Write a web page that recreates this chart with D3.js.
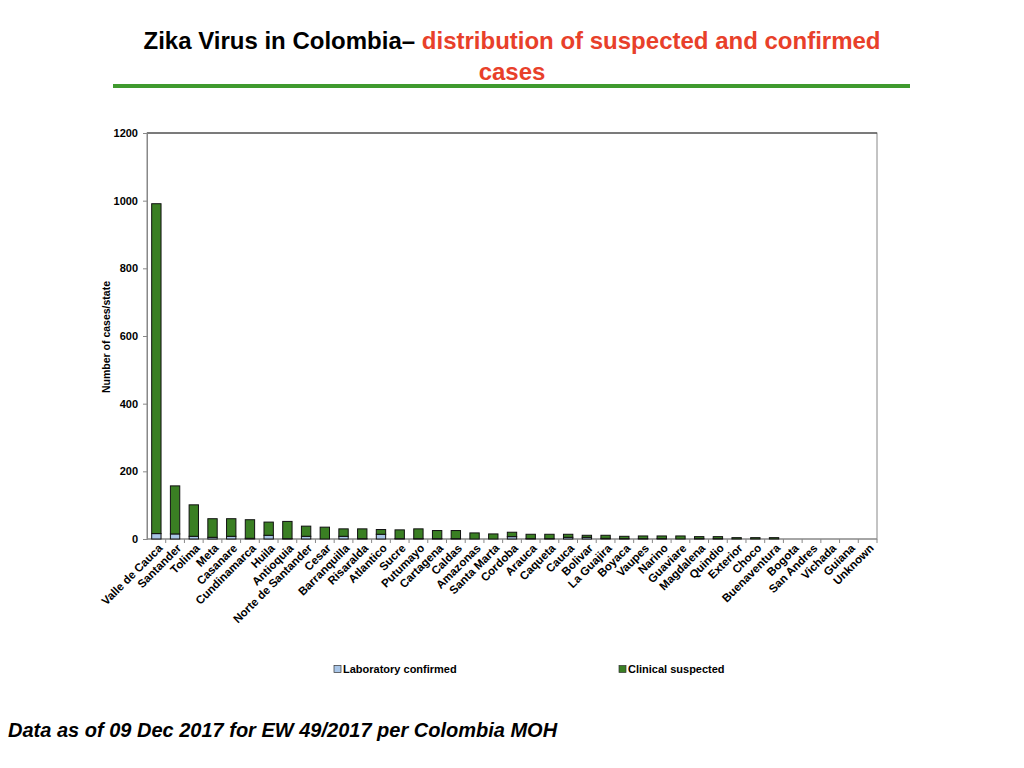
<!DOCTYPE html>
<html>
<head>
<meta charset="utf-8">
<script src="https://cdn.jsdelivr.net/npm/d3@7"></script>
<style>
  body { margin: 0; background: #fff; }
  svg { display: block; }
</style>
</head>
<body>
<svg width="1024" height="768"></svg>
<script>
const svg = d3.select("svg");

// data
const states = ["Valle de Cauca", "Santander", "Tolima", "Meta", "Casanare", "Cundinamarca",
  "Huila", "Antioquia", "Norte de Santander", "Cesar", "Barranquilla", "Risaralda", "Atlantico",
  "Sucre", "Putumayo", "Cartagena", "Caldas", "Amazonas", "Santa Marta", "Cordoba", "Arauca",
  "Caqueta", "Cauca", "Bolivar", "La Guajira", "Boyaca", "Vaupes", "Narino", "Guaviare",
  "Magdalena", "Quindio", "Exterior", "Choco", "Buenaventura", "Bogota", "San Andres",
  "Vichada", "Guiana", "Unknown"];
const labConfirmed = [16, 15, 8, 5, 8, 2, 11, 1, 8, 0, 8, 1, 14, 1, 1, 1, 1, 0, 0, 7, 1,
  1, 5, 5, 2, 1, 1, 1, 0, 1, 1, 0, 0, 0, 0, 0, 0, 0, 0];
const clinicalSuspected = [975, 142, 93, 55, 52, 55, 39, 51, 30, 35, 22, 29, 14, 26, 29, 24, 24, 18, 15, 13, 13,
  13, 9, 6, 9, 7, 8, 8, 9, 6, 6, 4, 4, 4, 0, 0, 0, 0, 0];
const yTicks = [0, 200, 400, 600, 800, 1000, 1200];
const seriesNames = ["Laboratory confirmed", "Clinical suspected"];
const seriesColors = ["#a9c6e8", "#3a7f23"];

const margin = { left: 147, right: 877, top: 133, bottom: 539 };
const font = "'Liberation Sans', Arial, sans-serif";
const narrow = "'Liberation Sans Narrow', 'Arial Narrow', 'Liberation Sans', sans-serif";

const x = d3.scaleBand().domain(states).range([margin.left, margin.right]);
const y = d3.scaleLinear().domain([0, 1200]).range([margin.bottom, margin.top]);

// title
const title = svg.append("text")
  .attr("x", 512).attr("y", 49)
  .attr("text-anchor", "middle")
  .style("font-family", narrow)
  .style("font-weight", "bold")
  .style("font-size", "24px");
title.append("tspan").attr("fill", "#000").text("Zika Virus in Colombia\u2013 ");
title.append("tspan").attr("fill", "#e8402a").text("distribution of suspected and confirmed");
svg.append("text")
  .attr("x", 512).attr("y", 80)
  .attr("text-anchor", "middle")
  .attr("fill", "#e8402a")
  .style("font-family", narrow)
  .style("font-weight", "bold")
  .style("font-size", "24px")
  .text("cases");

svg.append("rect")
  .attr("x", 113).attr("y", 84).attr("width", 797).attr("height", 4)
  .attr("fill", "#3f9a2e");

// plot frame
svg.append("rect")
  .attr("x", margin.left).attr("y", margin.top)
  .attr("width", margin.right - margin.left).attr("height", margin.bottom - margin.top)
  .attr("fill", "none").attr("stroke", "#888").attr("stroke-width", 1);
svg.append("line")
  .attr("x1", margin.left).attr("x2", margin.right)
  .attr("y1", margin.top).attr("y2", margin.top)
  .attr("stroke", "#333");

// y axis
const yAxis = svg.append("g")
  .attr("transform", `translate(${margin.left},0)`)
  .call(d3.axisLeft(y).tickValues(yTicks).tickFormat(d3.format("d")).tickSize(4).tickPadding(5));
yAxis.select(".domain").attr("stroke", "#888");
yAxis.selectAll(".tick line").attr("stroke", "#888");
yAxis.selectAll("text")
  .style("font-family", font)
  .style("font-weight", "bold").style("font-size", "11px").attr("fill", "#000");

svg.append("text")
  .attr("transform", "translate(110,337) rotate(-90)")
  .attr("text-anchor", "middle")
  .style("font-family", font)
  .style("font-weight", "bold").style("font-size", "10.5px")
  .text("Number of cases/state");

// x axis with ticks between categories
const xAxis = svg.append("g").attr("transform", `translate(0,${margin.bottom})`);
xAxis.append("line")
  .attr("x1", margin.left).attr("x2", margin.right)
  .attr("stroke", "#888");
xAxis.selectAll(".sep")
  .data(states)
  .join("line")
  .attr("x1", d => x(d) + x.bandwidth()).attr("x2", d => x(d) + x.bandwidth())
  .attr("y1", 0).attr("y2", 4)
  .attr("stroke", "#888");
xAxis.selectAll(".lbl")
  .data(states)
  .join("text")
  .attr("transform", d => `translate(${x(d) + x.bandwidth() / 2 + 4},7) rotate(-45)`)
  .attr("text-anchor", "end")
  .attr("dy", "0.35em")
  .style("font-family", font)
  .style("font-weight", "bold").style("font-size", "11.5px")
  .text(d => d);

// stacked bars
const rows = states.map((s, i) => ({ state: s, lab: labConfirmed[i], clin: clinicalSuspected[i] }));
const stack = d3.stack().keys(["lab", "clin"])(rows);
const barW = x.bandwidth() * 0.5;

svg.append("g")
  .selectAll("g")
  .data(stack)
  .join("g")
  .attr("fill", (d, i) => seriesColors[i])
  .selectAll("rect")
  .data(d => d.filter(p => p[1] - p[0] > 0))
  .join("rect")
  .attr("x", d => x(d.data.state) + (x.bandwidth() - barW) / 2)
  .attr("y", d => y(d[1]))
  .attr("width", barW)
  .attr("height", d => y(d[0]) - y(d[1]))
  .attr("stroke", "#111")
  .attr("stroke-width", 1);

// legend
const legendX = [334, 619];
const legend = svg.append("g").selectAll("g")
  .data(seriesNames)
  .join("g")
  .attr("transform", (d, i) => `translate(${legendX[i]},669)`);
legend.append("rect")
  .attr("x", 0).attr("y", -3.5).attr("width", 7).attr("height", 7)
  .attr("fill", (d, i) => seriesColors[i])
  .attr("stroke", "#333").attr("stroke-width", 0.7);
legend.append("text")
  .attr("x", 9).attr("y", 0).attr("dy", "0.35em")
  .style("font-family", font)
  .style("font-weight", "bold").style("font-size", "11px")
  .text(d => d);

// footer
svg.append("text")
  .attr("x", 8).attr("y", 737)
  .style("font-family", font)
  .style("font-weight", "bold").style("font-style", "italic").style("font-size", "20px")
  .text("Data as of 09 Dec 2017 for EW 49/2017 per Colombia MOH");
</script>
</body>
</html>
